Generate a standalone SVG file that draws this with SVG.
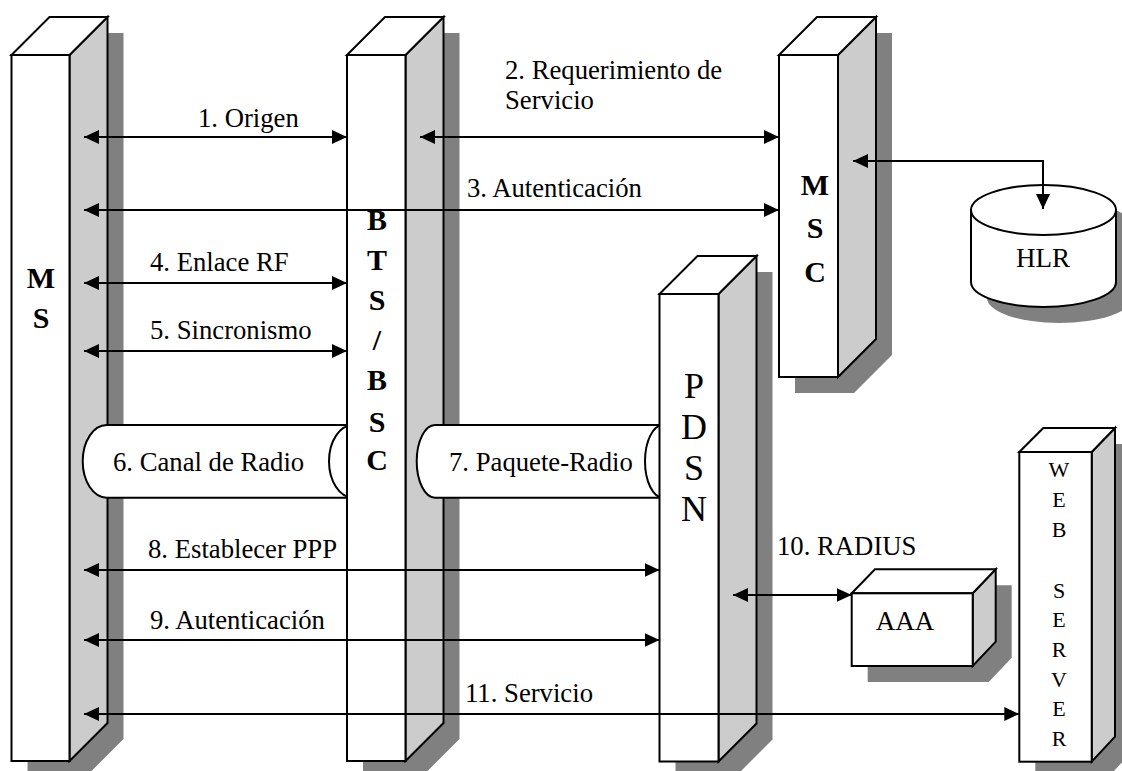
<svg xmlns="http://www.w3.org/2000/svg" width="1122" height="771" viewBox="0 0 1122 771">
  <style>
    .face { fill: #ffffff; stroke: #000000; stroke-width: 2; stroke-linejoin: miter; }
    .side { fill: #cccccc; stroke: #000000; stroke-width: 2; stroke-linejoin: miter; }
    .shadow { fill: #808080; stroke: none; }
    .link { stroke: #000000; stroke-width: 2; fill: none; marker-start: url(#ah); marker-end: url(#ah); }
    text { font-family: "Liberation Serif", "Times New Roman", serif; fill: #000000; }
    .lbl { font-size: 26.7px; }
    .big { font-size: 30px; font-weight: bold; text-anchor: middle; }
    .pd { font-size: 36px; text-anchor: middle; }
    .ws { font-size: 22px; text-anchor: middle; }
    .nm { font-size: 27px; text-anchor: middle; }
  </style>
  <defs>
    <marker id="ah" viewBox="0 0 15 14" refX="15" refY="7" markerWidth="15" markerHeight="14" markerUnits="userSpaceOnUse" orient="auto-start-reverse">
      <path d="M0,0 L15,7 L0,14 z" fill="#000000"/>
    </marker>
  </defs>
  <rect width="1122" height="771" fill="#ffffff"/>

  <!-- MS column -->
  <g id="ms">
    <polygon class="shadow" points="27.5,71 65.5,33 123.5,33 123.5,739 85.5,777 27.5,777"/>
    <polygon class="side" points="69.5,55 107.5,17 107.5,723 69.5,761"/>
    <polygon class="face" points="11.5,55 49.5,17 107.5,17 69.5,55"/>
    <rect class="face" x="11.5" y="55" width="58" height="706"/>
    <text class="big" x="41" y="288">M</text>
    <text class="big" x="41" y="328">S</text>
  </g>

  <!-- radio channel between MS and BTS -->
  <g id="canal-radio">
    <path class="face" d="M106.7,425 H353 A24,36.35 0 0 1 353,497.7 H106.7 A24,36.35 0 0 1 106.7,425 Z"/>
    <path class="face" d="M353,425 A24,36.35 0 0 0 353,497.7"/>
    <text class="lbl" x="113" y="471">6. Canal de Radio</text>
  </g>

  <!-- BTS/BSC column -->
  <g id="bts">
    <polygon class="shadow" points="363,71 401,33 459.5,33 459.5,739 421.5,777 363,777"/>
    <polygon class="side" points="405.5,55 443.5,17 443.5,723 405.5,761"/>
    <polygon class="face" points="347,55 385,17 443.5,17 405.5,55"/>
    <rect class="face" x="347" y="55" width="58.5" height="706"/>
    <text class="big" x="377" y="230">B</text>
    <text class="big" x="377" y="270">T</text>
    <text class="big" x="377" y="310">S</text>
    <text class="big" x="377" y="350">/</text>
    <text class="big" x="377" y="390">B</text>
    <text class="big" x="377" y="432">S</text>
    <text class="big" x="377" y="470">C</text>
  </g>

  <!-- packet radio channel between BTS and PDSN -->
  <g id="paquete-radio">
    <path class="face" d="M435,425 H663 A18,36.35 0 0 1 663,497.7 H435 A18.3,36.35 0 0 1 435,425 Z"/>
    <path class="face" d="M663,425 A18,36.35 0 0 0 663,497.7"/>
    <text class="lbl" x="449" y="471">7. Paquete-Radio</text>
  </g>

  <!-- PDSN column -->
  <g id="pdsn">
    <polygon class="shadow" points="675.5,310 713.5,272 772.5,272 772.5,739.5 734.5,777.5 675.5,777.5"/>
    <polygon class="side" points="718.5,294 756.5,256 756.5,723.5 718.5,761.5"/>
    <polygon class="face" points="659.5,294 697.5,256 756.5,256 718.5,294"/>
    <rect class="face" x="659.5" y="294" width="59" height="467.5"/>
    <text class="pd" x="694" y="398">P</text>
    <text class="pd" x="694" y="439">D</text>
    <text class="pd" x="694" y="480">S</text>
    <text class="pd" x="694" y="521">N</text>
  </g>

  <!-- MSC column -->
  <g id="msc">
    <polygon class="shadow" points="795,71 833,33 892,33 892,355 854,393 795,393"/>
    <polygon class="side" points="838,55 876,17 876,339 838,377"/>
    <polygon class="face" points="779,55 817,17 876,17 838,55"/>
    <rect class="face" x="779" y="55" width="59" height="322"/>
    <text class="big" x="815" y="195">M</text>
    <text class="big" x="815" y="238">S</text>
    <text class="big" x="815" y="282">C</text>
  </g>

  <!-- HLR database -->
  <g id="hlr">
    <path class="shadow" d="M987,226 V298 A72.5,25 0 0 0 1132,298 V226 A72.5,25 0 0 0 987,226 Z"/>
    <path class="face" d="M971,210 V282 A72.5,25 0 0 0 1116,282 V210 Z"/>
    <ellipse class="face" cx="1043.5" cy="210" rx="72.5" ry="25"/>
    <text class="nm" x="1043" y="267">HLR</text>
  </g>

  <!-- AAA server -->
  <g id="aaa">
    <polygon class="shadow" points="867.7,609.3 891,585.3 1011.7,585.3 1011.7,657.7 988.7,682 867.7,682"/>
    <polygon class="side" points="972.7,593.3 995.7,569.3 995.7,641.7 972.7,666"/>
    <polygon class="face" points="851.7,593.3 875,569.3 995.7,569.3 972.7,593.3"/>
    <rect class="face" x="851.7" y="593.3" width="121" height="72.7"/>
    <text class="nm" x="905" y="630">AAA</text>
  </g>

  <!-- Web server column -->
  <g id="web-server">
    <polygon class="shadow" points="1035.3,468 1059.3,444 1131,444 1131,752.7 1107.7,777.7 1035.3,777.7"/>
    <polygon class="side" points="1091.7,452 1115,428 1115,736.7 1091.7,761.7"/>
    <polygon class="face" points="1019.3,452 1043.3,428 1115,428 1091.7,452"/>
    <rect class="face" x="1019.3" y="452" width="72.4" height="309.7"/>
    <text class="ws" x="1059" y="477">W</text>
    <text class="ws" x="1059" y="507">E</text>
    <text class="ws" x="1059" y="537">B</text>
    <text class="ws" x="1059" y="598">S</text>
    <text class="ws" x="1059" y="627">E</text>
    <text class="ws" x="1059" y="657">R</text>
    <text class="ws" x="1059" y="687">V</text>
    <text class="ws" x="1059" y="716">E</text>
    <text class="ws" x="1059" y="746">R</text>
  </g>

  <!-- message arrows -->
  <g id="connectors">
    <line class="link" x1="84" y1="137" x2="347" y2="137"/>
    <line class="link" x1="420" y1="137" x2="779" y2="137"/>
    <line class="link" x1="84" y1="210" x2="779" y2="210"/>
    <line class="link" x1="84" y1="283" x2="347" y2="283"/>
    <line class="link" x1="84" y1="351" x2="347" y2="351"/>
    <line class="link" x1="84" y1="570" x2="659.5" y2="570"/>
    <line class="link" x1="84" y1="640" x2="659.5" y2="640"/>
    <line class="link" x1="733" y1="595" x2="851.7" y2="595"/>
    <line class="link" x1="84" y1="714" x2="1019.3" y2="714"/>
    <polyline class="link" points="853,161 1043,161 1043,209"/>
  </g>

  <!-- message labels -->
  <g id="labels">
    <text class="lbl" x="198" y="127">1. Origen</text>
    <text class="lbl" x="505" y="79">2. Requerimiento de</text>
    <text class="lbl" x="505" y="109">Servicio</text>
    <text class="lbl" x="467" y="197">3. Autenticación</text>
    <text class="lbl" x="150" y="271">4. Enlace RF</text>
    <text class="lbl" x="150" y="339">5. Sincronismo</text>
    <text class="lbl" x="148" y="558">8. Establecer PPP</text>
    <text class="lbl" x="150" y="629">9. Autenticación</text>
    <text class="lbl" x="777" y="555">10. RADIUS</text>
    <text class="lbl" x="465" y="702">11. Servicio</text>
  </g>
</svg>
